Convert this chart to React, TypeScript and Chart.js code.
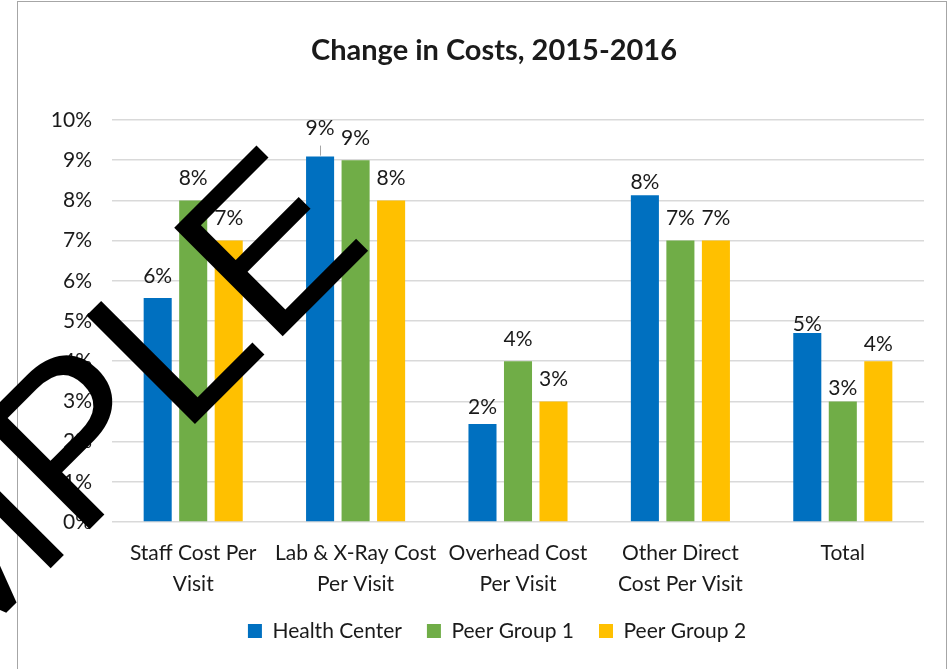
import React, { useEffect, useRef } from 'react';
import { Chart, registerables } from 'chart.js';

Chart.register(...registerables);

// ---------- data ----------
const categories: string[][] = [
  ['Staff Cost Per', 'Visit'],
  ['Lab & X-Ray Cost', 'Per Visit'],
  ['Overhead Cost', 'Per Visit'],
  ['Other Direct', 'Cost Per Visit'],
  ['Total'],
];
const seriesNames = ['Health Center', 'Peer Group 1', 'Peer Group 2'];
const healthCenter = [5.57, 9.09, 2.44, 8.13, 4.7];
const peerGroup1 = [8, 9, 4, 7, 3];
const peerGroup2 = [7, 8, 3, 7, 4];
const yMin = 0;
const yMax = 10;
const yStep = 1;
const chartTitle = 'Change in Costs, 2015-2016';
const watermarkText = 'SAMPLE';

// ---------- style ----------
const FONT = 'Lato, "Open Sans", sans-serif';
const TEXT = '#1a1a1a';
const COLORS = ['#0070C0', '#70AD47', '#FFC000'];
const FS = 21;
const LEGEND_PAD = 25;

const framePlugin = {
  id: 'frame',
  beforeDraw(chart: any) {
    const { ctx, width, height } = chart;
    ctx.save();
    ctx.fillStyle = '#ffffff';
    ctx.fillRect(0, 0, width, height);
    ctx.strokeStyle = '#A6A6A6';
    ctx.lineWidth = 1;
    ctx.strokeRect(17.5, 1.5, 929, height + 10);
    ctx.restore();
  },
};

const placePlugin = {
  id: 'place',
  afterLayout(chart: any, _args: any, opts: any) {
    const t = chart.titleBlock;
    if (t) {
      const dx = opts.titleCenterX - (t.left + t.right) / 2;
      t.left += dx;
      t.right += dx;
    }
    const l = chart.legend;
    if (l) {
      const dx = opts.legendCenterX - (l.left + l.right) / 2;
      const dy = opts.legendCenterY - (l.top + opts.legendPadding + opts.legendFontSize / 2);
      l.left += dx;
      l.right += dx;
      l.top += dy;
      l.bottom += dy;
    }
  },
};

const barLabelPlugin = {
  id: 'barLabels',
  afterDatasetsDraw(chart: any, _args: any, opts: any) {
    const { ctx } = chart;
    ctx.save();
    ctx.font = `${opts.size}px ${FONT}`;
    ctx.fillStyle = TEXT;
    ctx.textAlign = 'center';
    ctx.textBaseline = 'middle';
    chart.data.datasets.forEach((ds: any, di: number) => {
      const meta = chart.getDatasetMeta(di);
      meta.data.forEach((bar: any, i: number) => {
        const v = ds.data[i] as number;
        const lift = opts.lift[di][i];
        ctx.fillText(`${Math.round(v)}%`, bar.x, bar.y - lift);
        const leader = (opts.leaders || []).find((q: any) => q.dataset === di && q.index === i);
        if (leader) {
          ctx.save();
          ctx.strokeStyle = '#A6A6A6';
          ctx.lineWidth = 1;
          ctx.beginPath();
          ctx.moveTo(Math.round(bar.x) + 0.5, bar.y - 1);
          ctx.lineTo(Math.round(bar.x) + 0.5, bar.y - 1 - leader.length);
          ctx.stroke();
          ctx.restore();
        }
      });
    });
    ctx.restore();
  },
};

const watermarkPlugin = {
  id: 'watermark',
  afterDraw(chart: any, _args: any, opts: any) {
    const { ctx } = chart;
    ctx.save();
    ctx.translate(opts.x, opts.y);
    ctx.rotate(-Math.PI / 4);
    ctx.font = `${opts.size}px "Liberation Sans", Arial, sans-serif`;
    ctx.fillStyle = '#000000';
    ctx.textAlign = 'right';
    ctx.textBaseline = 'alphabetic';
    ctx.fillText(watermarkText, 0, 0);
    ctx.restore();
  },
};

export default function App() {
  const ref = useRef<HTMLCanvasElement>(null);
  useEffect(() => {
    const series = [healthCenter, peerGroup1, peerGroup2];
    const chart = new Chart(ref.current as HTMLCanvasElement, {
      type: 'bar',
      data: {
        labels: categories,
        datasets: series.map((d, i) => ({
          label: seriesNames[i],
          data: d,
          backgroundColor: COLORS[i],
          borderWidth: 0,
          categoryPercentage: 0.656,
          barPercentage: 0.79,
        })),
      },
      options: {
        animation: false,
        responsive: false,
        layout: { padding: { left: 17, right: 27, top: 0, bottom: -2 } },
        plugins: {
          title: {
            display: true,
            text: chartTitle,
            color: TEXT,
            font: { family: FONT, size: 29, weight: 'bold', lineHeight: 1.2 },
            padding: { top: 33.6, bottom: 51.6 },
          },
          legend: {
            position: 'bottom',
            labels: {
              boxWidth: 14,
              boxHeight: 14,
              padding: LEGEND_PAD,
              color: TEXT,
              font: { family: FONT, size: FS },
            },
          },
          tooltip: { enabled: false },
          place: {
            titleCenterX: 494,
            legendCenterX: 497,
            legendCenterY: 631,
            legendPadding: LEGEND_PAD,
            legendFontSize: FS,
          },
          barLabels: {
            size: FS,
            lift: [
              [22, 28, 17, 13, 9],
              [22, 22, 22, 22, 13],
              [22, 22, 22, 22, 17],
            ],
            leaders: [{ dataset: 0, index: 1, length: 10 }],
          },
          watermark: { x: 374.8, y: 244.2, size: 223 },
        } as any,
        scales: {
          x: {
            grid: { display: false, drawTicks: false },
            border: { display: false },
            ticks: {
              color: TEXT,
              font: { family: FONT, size: FS, lineHeight: 31 / FS },
              padding: 15.5,
              maxRotation: 0,
              autoSkip: false,
            },
          },
          y: {
            min: yMin,
            max: yMax,
            grid: { color: '#D9D9D9', lineWidth: 1.5, drawTicks: false },
            border: { display: false },
            ticks: {
              stepSize: yStep,
              padding: 20,
              color: TEXT,
              font: { family: FONT, size: FS },
              callback: (v: any) => `${v}%`,
            },
            afterFit: (s: any) => {
              s.width = 95;
            },
          },
        },
      },
      plugins: [framePlugin, placePlugin, barLabelPlugin, watermarkPlugin],
    } as any);
    return () => chart.destroy();
  }, []);
  return (
    <div style={{ position: 'fixed', left: 0, top: 0, width: 951, height: 669, background: '#fff' }}>
      <canvas ref={ref} width={951} height={669} style={{ display: 'block' }} />
    </div>
  );
}
